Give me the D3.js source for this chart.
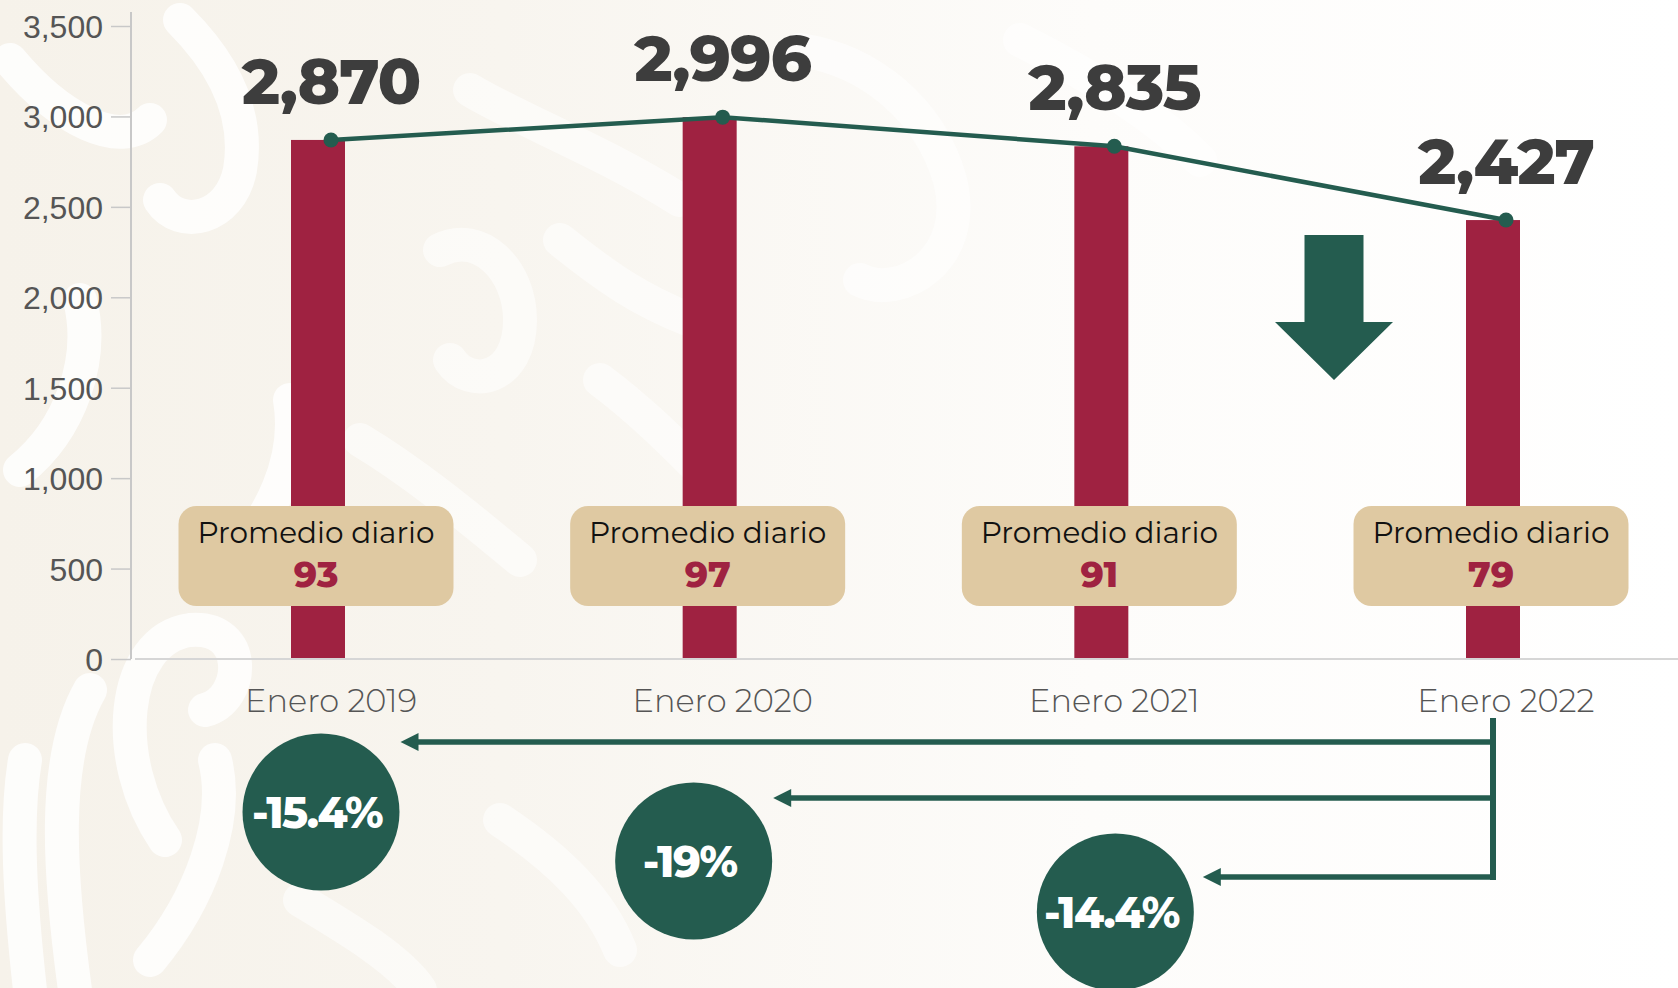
<!DOCTYPE html>
<html>
<head>
<meta charset="utf-8">
<script src="https://cdn.jsdelivr.net/npm/d3@7"></script>
<style>
  html, body { margin: 0; padding: 0; background: #fff; }
  svg { display: block; font-family: Montserrat, Inter, "Noto Sans", sans-serif; }
</style>
</head>
<body>
<div id="chart"></div>
<script>
// data
var categories = ['Enero 2019', 'Enero 2020', 'Enero 2021', 'Enero 2022'];
var totals = [2870, 2996, 2835, 2427];
var dailyAvg = [93, 97, 91, 79];
var yTicks = [0, 500, 1000, 1500, 2000, 2500, 3000, 3500];
var boxTitle = 'Promedio diario';

// annotation layout (comparison circles, one per earlier year)
var circleDx = [-10, -29, 1];
var circleCy = [812, 861, 912];
var arrowY = [742, 798, 877];

var W = 1678, H = 988;
var green = '#245c4f', wine = '#9f2241', gold = '#dfc9a2';

var svg = d3.select('#chart').append('svg')
    .attr('width', W)
    .attr('height', H);

// background
var defs = svg.append('defs');
var grad = defs.append('linearGradient').attr('id', 'bg').attr('x1', 0).attr('x2', 1);
grad.append('stop').attr('offset', '0%').attr('stop-color', '#f6f2ea');
grad.append('stop').attr('offset', '30%').attr('stop-color', '#f8f5ef');
grad.append('stop').attr('offset', '65%').attr('stop-color', '#fdfcfa');
grad.append('stop').attr('offset', '100%').attr('stop-color', '#ffffff');
svg.append('rect').attr('width', W).attr('height', H).attr('fill', 'url(#bg)');

var swirls = [
    'M30,990 C20,900 15,820 25,760',
    'M75,990 C60,880 50,760 90,690',
    'M165,840 C110,760 120,640 190,630 C250,625 245,700 205,710',
    'M150,960 C200,900 230,820 215,760',
    'M20,470 C70,430 95,360 80,300',
    'M230,560 C270,520 300,460 290,400',
    'M10,60 C60,120 120,150 150,120',
    'M180,20 C220,60 250,110 240,170 C230,220 180,230 160,200',
    'M440,250 C480,230 520,270 520,320 C520,380 470,390 450,360',
    'M360,440 C410,470 460,510 520,560',
    'M560,240 C610,280 640,300 690,320',
    'M600,380 C640,410 670,440 700,470',
    'M470,90 C520,120 600,150 680,200',
    'M800,50 C870,60 930,110 950,180 C970,260 900,300 860,280',
    'M300,900 C350,930 400,960 420,990',
    'M500,820 C560,860 600,900 620,950',
    'M1020,40 C1080,70 1150,110 1200,160'
];
svg.append('g')
    .selectAll('path')
    .data(swirls)
    .enter()
    .append('path')
    .attr('d', function(d) { return d; })
    .attr('fill', 'none')
    .attr('stroke', '#ffffff')
    .attr('stroke-opacity', function(d, i) { return i < 8 ? 0.8 : 0.55; })
    .attr('stroke-width', 34)
    .attr('stroke-linecap', 'round');

// scales
var x = d3.scalePoint().domain(categories).range([331, 1506]);
var y = d3.scaleLinear().domain([0, 3500]).range([659, 26]);
var barOffset = -13, barW = 54;

var data = categories.map(function(c, i) {
    return { cat: c, total: totals[i], avg: dailyAvg[i] };
});

// y axis
var yAxis = svg.append('g')
    .attr('transform', 'translate(131,0)')
    .call(d3.axisLeft(y).tickValues(yTicks).tickFormat(d3.format(',')).tickSize(20).tickPadding(8));
yAxis.select('.domain').remove();
yAxis.selectAll('line').attr('stroke', '#c8c8c8').attr('stroke-width', 1.5);
yAxis.selectAll('text')
    .attr('fill', '#555')
    .attr('font-size', 32)
    .attr('font-weight', 300)
    .attr('dy', '0.36em');
svg.append('line')
    .attr('x1', 131).attr('x2', 131)
    .attr('y1', 12).attr('y2', y(0))
    .attr('stroke', '#c8c8c8').attr('stroke-width', 2);

// bars
svg.append('g').selectAll('rect')
    .data(data)
    .enter()
    .append('rect')
    .attr('x', function(d) { return x(d.cat) + barOffset - barW / 2; })
    .attr('y', function(d) { return y(d.total); })
    .attr('width', barW)
    .attr('height', function(d) { return y(0) - y(d.total); })
    .attr('fill', wine);

// x baseline
svg.append('line')
    .attr('x1', 135).attr('x2', W)
    .attr('y1', y(0)).attr('y2', y(0))
    .attr('stroke', '#d6d6d6').attr('stroke-width', 2);

// x labels
svg.append('g').selectAll('text')
    .data(data)
    .enter()
    .append('text')
    .attr('x', function(d) { return x(d.cat); })
    .attr('y', 712)
    .attr('text-anchor', 'middle')
    .attr('fill', '#555')
    .attr('font-size', 32)
    .attr('font-weight', 300)
    .text(function(d) { return d.cat; });

// line + dots
var line = d3.line()
    .x(function(d) { return x(d.cat); })
    .y(function(d) { return y(d.total); });
svg.append('path')
    .datum(data)
    .attr('d', line)
    .attr('fill', 'none')
    .attr('stroke', green)
    .attr('stroke-width', 4.5);
svg.append('g').selectAll('circle')
    .data(data)
    .enter()
    .append('circle')
    .attr('cx', function(d) { return x(d.cat); })
    .attr('cy', function(d) { return y(d.total); })
    .attr('r', 7.5)
    .attr('fill', green);

// value labels
svg.append('g').selectAll('text')
    .data(data)
    .enter()
    .append('text')
    .attr('x', function(d) { return x(d.cat); })
    .attr('y', function(d) { return y(d.total) - 36; })
    .attr('text-anchor', 'middle')
    .attr('fill', '#3d3d3d')
    .attr('font-size', 64)
    .attr('font-weight', 800)
    .attr('letter-spacing', -1)
    .text(function(d) { return d3.format(',')(d.total); });

// daily average boxes
var boxes = svg.append('g').selectAll('g')
    .data(data)
    .enter()
    .append('g')
    .attr('transform', function(d) { return 'translate(' + (x(d.cat) + barOffset - 2) + ',0)'; });
boxes.append('rect')
    .attr('x', -137.5).attr('y', 506)
    .attr('width', 275).attr('height', 100)
    .attr('rx', 18)
    .attr('fill', gold);
boxes.append('text')
    .attr('y', 543)
    .attr('text-anchor', 'middle')
    .attr('fill', '#111')
    .attr('font-size', 29.5)
    .text(boxTitle);
boxes.append('text')
    .attr('y', 587)
    .attr('text-anchor', 'middle')
    .attr('fill', wine)
    .attr('font-size', 36)
    .attr('font-weight', 800)
    .text(function(d) { return d.avg; });

// big down arrow
var ax = x(categories[3]) - 172, ay = 235;
svg.append('path')
    .attr('d', 'M' + (ax - 29.5) + ',' + ay + 'h59v87h29.5l-59,58l-59,-58h29.5z')
    .attr('fill', green);

// comparison bracket
var last = data[data.length - 1];
var bx = x(last.cat) + barOffset;
var comps = data.slice(0, -1).map(function(d, i) {
    var chg = Math.round((last.total - d.total) / d.total * 1000) / 10;
    return { cat: d.cat, label: chg + '%', cx: x(d.cat) + circleDx[i], cy: circleCy[i], ay: arrowY[i] };
});
var R = 78.5;

var br = svg.append('g');
br.append('line')
    .attr('x1', bx).attr('x2', bx)
    .attr('y1', 718).attr('y2', d3.max(arrowY) + 3)
    .attr('stroke', green).attr('stroke-width', 6);
br.selectAll('line.h')
    .data(comps)
    .enter()
    .append('line')
    .attr('class', 'h')
    .attr('x1', bx + 3)
    .attr('x2', function(d, i) { return d.cx + R + (i === 2 ? 9 : 1) + 14; })
    .attr('y1', function(d) { return d.ay; })
    .attr('y2', function(d) { return d.ay; })
    .attr('stroke', green).attr('stroke-width', 5.5);
br.selectAll('path')
    .data(comps)
    .enter()
    .append('path')
    .attr('d', function(d, i) {
        var tx = d.cx + R + (i === 2 ? 9 : 1);
        return 'M' + tx + ',' + d.ay + 'l18,-9v18z';
    })
    .attr('fill', green);

var cg = svg.append('g').selectAll('g')
    .data(comps)
    .enter()
    .append('g')
    .attr('transform', function(d) { return 'translate(' + d.cx + ',' + d.cy + ')'; });
cg.append('circle')
    .attr('r', R)
    .attr('fill', green);
cg.append('text')
    .attr('x', -4)
    .attr('y', 16)
    .attr('text-anchor', 'middle')
    .attr('fill', '#fff')
    .attr('font-size', 43)
    .attr('font-weight', 800)
    .attr('letter-spacing', -1.5)
    .text(function(d) { return d.label; });
</script>
</body>
</html>
